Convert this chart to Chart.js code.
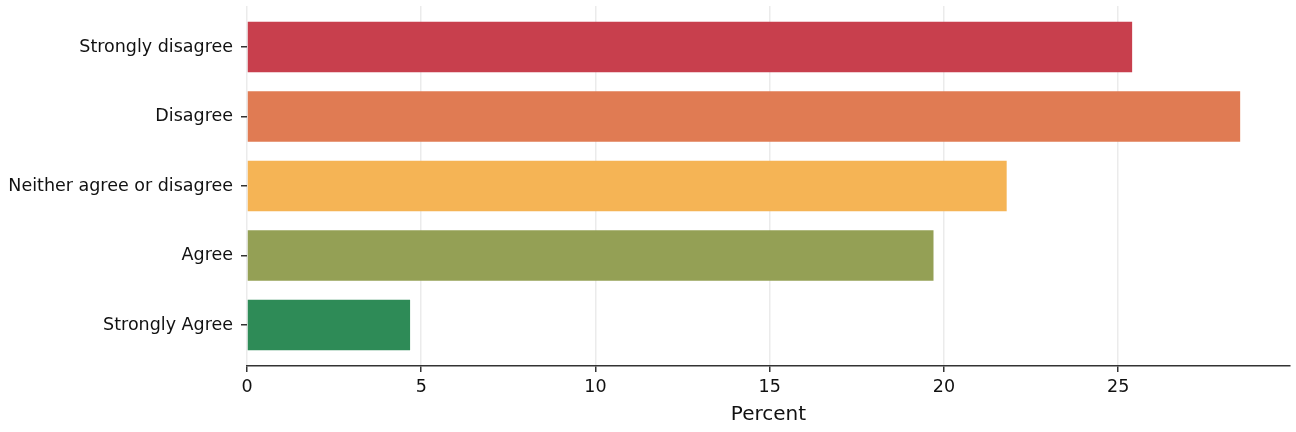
<!DOCTYPE html>
<html>
<head>
<meta charset="utf-8">
<script src="https://cdn.jsdelivr.net/npm/chart.js@4"></script>
<style>
  html, body { margin: 0; padding: 0; background: #fff; }
  #wrap { width: 1296px; height: 432px; }
</style>
</head>
<body>
<div id="wrap"><canvas id="likertChart" width="1296" height="432"></canvas></div>
<script>
// answer categories, top to bottom
const categories = ['Strongly disagree', 'Disagree', 'Neither agree or disagree', 'Agree', 'Strongly Agree'];
// percent of respondents
const percents = [25.4, 28.5, 21.8, 19.7, 4.68];
const barColors = ['#c83f4d', '#e07b53', '#f5b455', '#94a055', '#2e8b57'];
const xTicks = [0, 5, 10, 15, 20, 25];

const font = { family: "'DejaVu Sans'", size: 17.5 };

new Chart(document.getElementById('likertChart'), {
  type: 'bar',
  data: {
    datasets: [{
      data: percents.map((v, i) => ({ x: v, y: i })),
      backgroundColor: barColors,
      barPercentage: 0.73,
      categoryPercentage: 1
    }]
  },
  options: {
    indexAxis: 'y',
    responsive: false,
    animation: false,
    layout: { padding: { top: 6, right: 6, left: 0, bottom: 0 } },
    plugins: { legend: { display: false }, tooltip: { enabled: false } },
    scales: {
      x: {
        type: 'linear',
        min: 0,
        max: 29.93,
        afterBuildTicks: axis => { axis.ticks = xTicks.map(v => ({ value: v })); },
        afterFit: axis => { axis.height = 66; axis.paddingLeft = 0; axis.paddingRight = 0; },
        grid: { color: '#ebebeb', lineWidth: 1.5, tickColor: '#333', tickLength: 6 },
        border: { color: '#333', width: 1.5 },
        ticks: { font: font, color: '#111', padding: 5, maxRotation: 0 },
        title: { display: true, text: 'Percent', font: { family: "'DejaVu Sans'", size: 20 }, color: '#111', padding: { top: 2, bottom: 5 } }
      },
      y: {
        type: 'linear',
        reverse: true,
        offset: false,
        min: -0.59,
        max: 4.59,
        afterBuildTicks: axis => { axis.ticks = categories.map((_, i) => ({ value: i })); },
        // labels sit well inside the axis, so no end padding is needed
        afterFit: axis => { axis.width = 247; axis.paddingTop = 0; axis.paddingBottom = 0; },
        grid: { offset: false, drawOnChartArea: false, tickColor: '#333', tickLength: 6, lineWidth: 1.5 },
        border: { display: false },
        ticks: { font: font, color: '#111', padding: 8, callback: v => categories[v] }
      }
    }
  }
});
</script>
</body>
</html>
